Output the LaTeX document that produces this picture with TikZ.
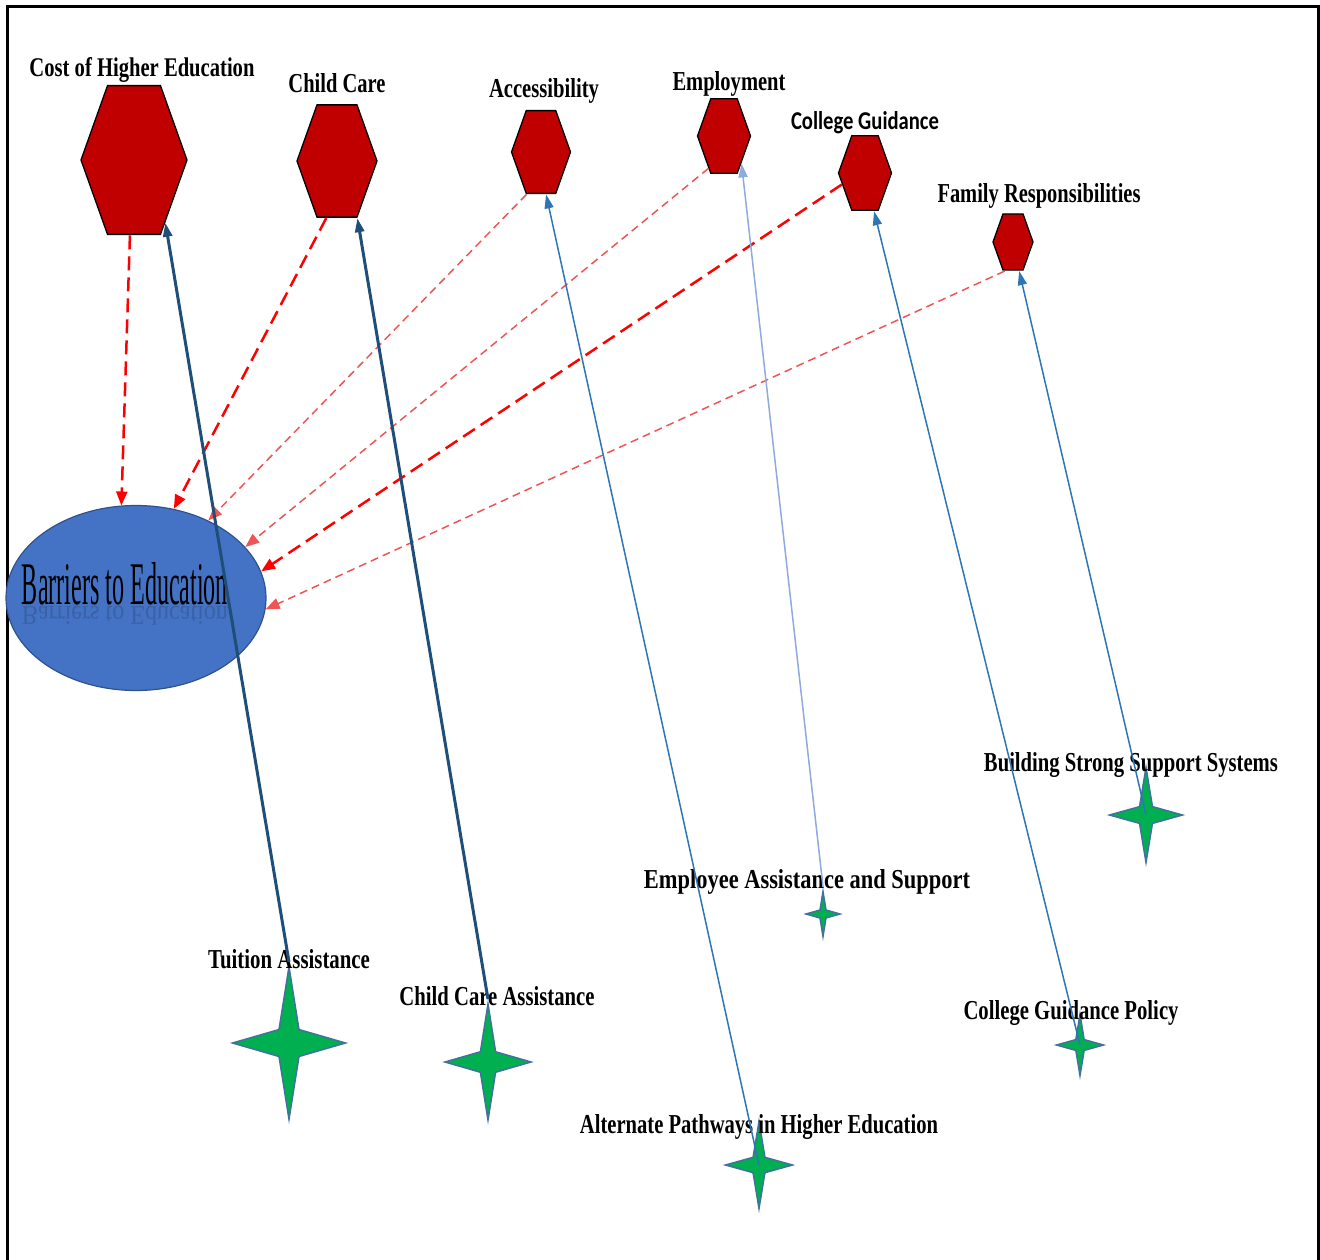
\documentclass[tikz,border=0pt]{standalone}
\usepackage{fontspec}
\setmainfont{Liberation Serif}
\newfontfamily\calibri{Carlito}
\usepackage{graphicx}
\usetikzlibrary{shapes.geometric, arrows.meta}

\definecolor{hexred}{RGB}{192,0,0}
\definecolor{stargreen}{RGB}{0,176,80}
\definecolor{starline}{RGB}{65,113,156}
\definecolor{ovalblue}{RGB}{68,114,196}
\definecolor{ovalline}{RGB}{47,82,143}
\definecolor{navyline}{RGB}{31,78,121}
\definecolor{midblue}{RGB}{46,117,182}
\definecolor{paleblue}{RGB}{143,170,220}
\definecolor{palered}{RGB}{238,85,85}

% squeezed bold label: width, text
\newcommand{\lbl}[2]{\resizebox{#1pt}{19pt}{\bfseries #2}}

\begin{document}
\begin{tikzpicture}[
        x=1pt, y=-1pt,
        hexa/.style={regular polygon, regular polygon sides=6, draw=black, line width=1.3pt, fill=hexred, inner sep=0pt, yscale=1.62, transform shape},
        spark/.style={star, star points=4, star point ratio=4, draw=starline, line width=1.5pt, fill=stargreen, inner sep=0pt, transform shape},
        lab/.style={anchor=base, inner sep=0pt},
        cause/.style={-{Triangle[length=14pt,width=11pt]}},
        strong/.style={cause, red, line width=2.5pt, dash pattern=on 14pt off 7pt},
        weak/.style={cause, palered, line width=1.5pt, dash pattern=on 8pt off 5pt},
        fix/.style={-{Triangle[length=14pt,width=9pt]}, line width=1.5pt}
    ]
        \useasboundingbox (0,0) rectangle (1320,1260);

        % Frame (open at the bottom)
        \draw[line width=3pt] (7,1260) -- (7,7) -- (1318,7) -- (1318,1260);

        % Central barrier
        \node[ellipse, draw=ovalline, line width=1.2pt, fill=ovalblue, minimum width=260pt, minimum height=185pt, inner sep=0pt] (barriers) at (136,598) {};
        \node[anchor=north, inner sep=0pt, opacity=0.15] (mirror) at (125,606) {\scalebox{1}[-0.45]{\resizebox{206pt}{42pt}{Barriers to Education}}};
        \node[lab] (barrierslbl) at (125,604) {\resizebox{206pt}{42pt}{Barriers to Education}};

        % Row 1: barriers (hexagons)
        \node[hexa, minimum size=106pt] (cost) at (134,160) {};
        \node[hexa, minimum size=80pt] (care) at (337,161) {};
        \node[hexa, minimum size=59pt] (access) at (541,152) {};
        \node[hexa, minimum size=53pt] (employ) at (724,136) {};
        \node[hexa, minimum size=53pt] (guide) at (865,173) {};
        \node[hexa, minimum size=40pt] (family) at (1013,242) {};

        % Bottom: remedies (stars)
        \node[spark, minimum size=113pt, yscale=1.35] (tuition) at (289,1043) {};
        \node[spark, minimum size=86pt, yscale=1.35] (careaid) at (488,1062) {};
        \node[spark, minimum size=67pt, yscale=1.3] (pathways) at (759,1165) {};
        \node[spark, minimum size=34pt, yscale=1.32] (eap) at (823,914) {};
        \node[spark, minimum size=47pt, yscale=1.3] (policy) at (1080,1045) {};
        \node[spark, minimum size=73pt, yscale=1.3] (support) at (1146,815) {};

        % Labels
        \node[lab] (costlbl) at (142,77) {\lbl{225}{Cost of Higher Education}};
        \node[lab] (carelbl) at (337,93) {\lbl{97}{Child Care}};
        \node[lab] (accesslbl) at (544,98) {\lbl{110}{Accessibility}};
        \node[lab] (employlbl) at (729,91) {\lbl{113}{Employment}};
        \node[lab] (guidelbl) at (865,130) {\resizebox{148pt}{18pt}{\calibri\bfseries College Guidance}};
        \node[lab] (familylbl) at (1039,203) {\lbl{203}{Family Responsibilities}};
        \node[lab] (supportlbl) at (1131,771) {\lbl{294}{Building Strong Support Systems}};
        \node[lab] (eaplbl) at (807,888) {\lbl{326}{Employee Assistance and Support}};
        \node[lab] (tuitionlbl) at (289,968) {\lbl{162}{Tuition Assistance}};
        \node[lab] (careaidlbl) at (497,1005) {\lbl{195}{Child Care Assistance}};
        \node[lab] (pathwayslbl) at (759,1133) {\lbl{358}{Alternate Pathways in Higher Education}};
        \node[lab] (policylbl) at (1071,1019) {\lbl{215}{College Guidance Policy}};

        % Barriers feed the central node
        \draw[strong] (cost.265) -- (barriers.99);
        \draw[strong] (care.253) -- (barriers.67);
        \draw[weak] (access.241) -- (barriers.47);
        \draw[weak] (employ.232) -- (barriers.25);
        \draw[strong] (guide.197) -- (barriers.12);
        \draw[weak] (family.245) -- (barriers.355);

        % Remedies point back at barriers
        \draw[fix, navyline, line width=3pt] (tuition.north) -- (cost.309);
        \draw[fix, navyline, line width=3pt] (careaid.north) -- (care.300);
        \draw[fix, midblue] (pathways.center) -- (access.281);
        \draw[fix, paleblue] (eap.north) -- (employ.316);
        \draw[fix, midblue] (policy.center) -- (guide.291);
        \draw[fix, midblue] (support.center) -- (family.289);
    \end{tikzpicture}
\end{document}
